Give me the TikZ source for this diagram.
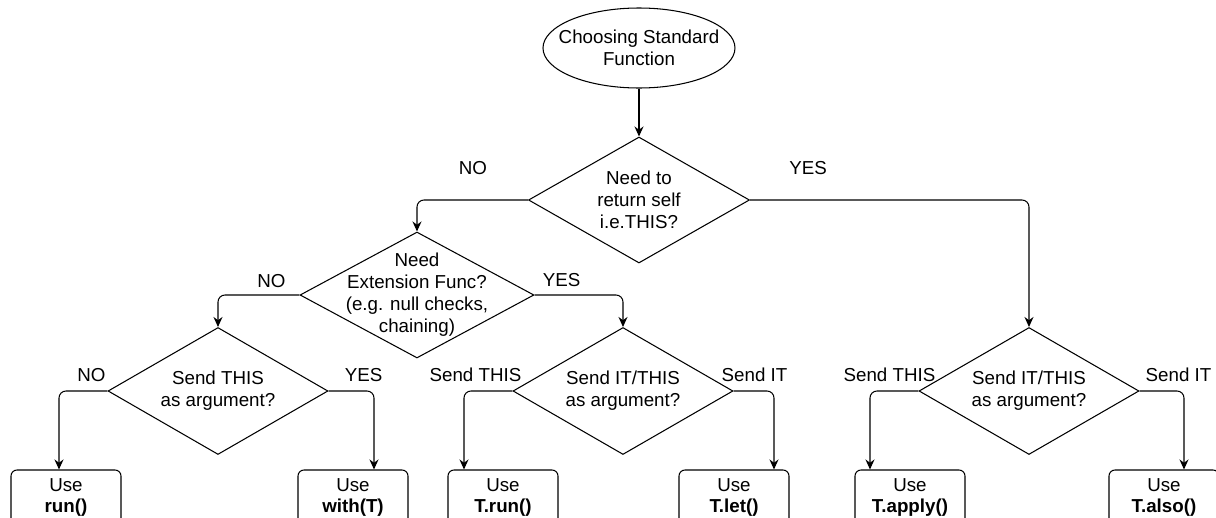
\documentclass[tikz,border=0pt]{standalone}
\usepackage{fontspec}
\setmainfont{Liberation Sans}
\usetikzlibrary{shapes.geometric,positioning,arrows.meta}
\newcommand{\dfont}{\fontsize{10.67pt}{12.5pt}\selectfont}

\begin{document}
\begin{tikzpicture}[->, >={Stealth[length=0.2cm,width=0.18cm]}, on grid, font=\dfont, line width=0.6pt,
  startnode/.style={draw, ellipse, minimum width=3.84cm, minimum height=1.6cm, inner sep=0pt},
  decision/.style={draw, diamond, minimum width=4.4cm, minimum height=2.54cm, inner sep=0pt},
  usebox/.style={draw, rectangle, rounded corners=0.12cm, minimum width=2.2cm, minimum height=1.1cm, align=center},
  says/.style={label={[align=center]center:#1}},
  hv/.style={rounded corners=0.14cm, to path={-| (\tikztotarget) \tikztonodes}},
  lbl/.style={at start}]
\path[use as bounding box] (-12.78,0.96) rectangle ++(24.32,-10.36);
\node  (1)[startnode, says={Choosing Standard\\Function}] {};
\node  (2)[decision, minimum width=4.42cm, minimum height=2.52cm, says={Need to\\return self\\i.e.THIS?}] [below=3.04cm of 1] {};
\node  (3)[decision, minimum width=4.68cm, minimum height=2.52cm, says={Need\\Extension Func?\\(e.g. null checks,\\chaining)}] [below left=1.9cm and 4.44cm of 2] {};
\node  (4)[decision, says={Send IT/THIS\\as argument?}] [below right=3.82cm and 7.8cm of 2] {};
\node  (5)[decision, says={Send THIS\\as argument?}] [below left=1.92cm and 3.98cm of 3] {};
\node  (6)[decision, says={Send IT/THIS\\as argument?}] [below right=1.92cm and 4.12cm of 3] {};
\node  (7)[usebox] [below left=2.13cm and 3.04cm of 5] {Use\\\textbf{run()}};
\node  (8)[usebox] [below right=2.13cm and 2.7cm of 5] {Use\\\textbf{with(T)}};
\node  (9)[usebox] [below left=2.13cm and 2.4cm of 6] {Use\\\textbf{T.run()}};
\node (10)[usebox] [below right=2.13cm and 2.22cm of 6] {Use\\\textbf{T.let()}};
\node (11)[usebox] [below left=2.13cm and 2.38cm of 4] {Use\\\textbf{T.apply()}};
\node (12)[usebox] [below right=2.13cm and 2.7cm of 4] {Use\\\textbf{T.also()}};
\path (1)edge(2)
      (2.west)edge[hv] node (l1)[lbl, xshift=-1.1cm, yshift=0.64cm]{NO}(3.north)
      (2.east)edge[hv] node (l2)[lbl, xshift=1.16cm, yshift=0.64cm]{YES}(4.north)
      (3.west)edge[hv] node (l3)[lbl, xshift=-0.56cm, yshift=0.28cm]{NO}(5.north)
      (3.east)edge[hv] node (l4)[lbl, xshift=0.54cm, yshift=0.3cm]{YES}(6.north)
      (5.west)edge[hv] node (l5)[lbl, xshift=-0.32cm, yshift=0.32cm]{NO}([xshift=-0.14cm]7.north)
      (5.east)edge[hv] node (l6)[lbl, xshift=0.7cm, yshift=0.32cm]{YES}([xshift=0.42cm]8.north)
      (6.west)edge[hv] node (l7)[lbl, xshift=-0.74cm, yshift=0.32cm]{Send THIS}([xshift=-0.78cm]9.north)
      (6.east)edge[hv] node (l8)[lbl, xshift=0.42cm, yshift=0.32cm]{Send IT}([xshift=0.8cm]10.north)
      (4.west)edge[hv] node (l9)[lbl, xshift=-0.58cm, yshift=0.32cm]{Send THIS}([xshift=-0.8cm]11.north)
      (4.east)edge[hv] node (l10)[lbl, xshift=0.78cm, yshift=0.32cm]{Send IT}([xshift=0.4cm]12.north);
\end{tikzpicture}
\end{document}
